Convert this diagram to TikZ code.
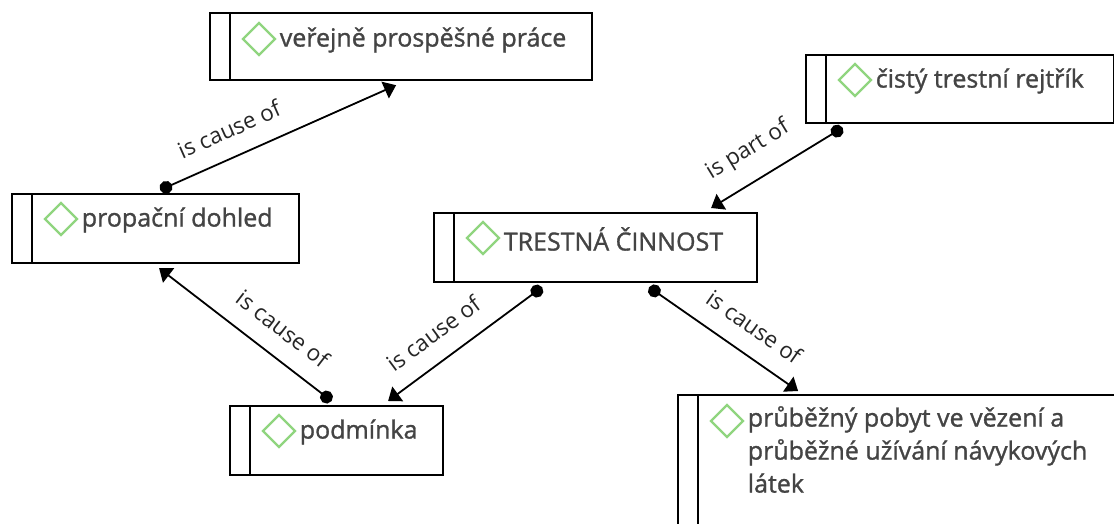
\documentclass[tikz,border=0pt]{standalone}
\usepackage{fontspec}
\setmainfont[FakeBold=1.2]{Open Sans}
\newfontfamily\labelfont{Open Sans}
\usetikzlibrary{positioning,arrows.meta,shapes.geometric}
\definecolor{inktext}{HTML}{444444}
\definecolor{markgreen}{HTML}{90D57F}
\begin{document}
\begin{tikzpicture}[x=1pt,y=-1pt]

    \tikzset{
      conceptbox/.style={
        draw,
        line width=2.2pt,
        anchor=north west,
        inner sep=0pt,
      },
      markdiamond/.style={
        draw=markgreen,
        line width=2.2pt,
        diamond,
        aspect=1,
        inner sep=0pt,
        minimum width=33pt,
        minimum height=33pt,
      },
      concepttext/.style={
        text=inktext,
        font=\fontsize{25}{33}\selectfont,
        align=left,
        inner sep=0pt,
      },
      causeline/.style={
        line width=1.8pt,
        {Circle[length=13pt]}-{Triangle[length=12pt,width=18pt]},
      },
      causelabel/.style={
        sloped,
        above=18pt,
        inner sep=0pt,
        text=black!85,
        font=\labelfont\fontsize{22.5}{24}\selectfont,
      },
    }
    \useasboundingbox (0,0) rectangle (1114,524);
    \clip (0,0) rectangle (1114,524);

    \node[conceptbox,minimum width=382pt,minimum height=67pt] (verejne) at (209,12) {};
    \node[conceptbox,minimum width=287pt,minimum height=69pt] (propacni) at (11,193) {};
    \node[conceptbox,minimum width=323pt,minimum height=69pt] (cinnost) at (433,212) {};
    \node[conceptbox,minimum width=308pt,minimum height=68pt] (rejstrik) at (805,54) {};
    \node[conceptbox,minimum width=213pt,minimum height=69pt] (podminka) at (229,405) {};
    \node[conceptbox,minimum width=500pt,minimum height=200pt] (pobyt) at (677,394) {};

    \foreach \n in {verejne,propacni,cinnost,rejstrik,podminka,pobyt}
      \draw[line width=2.2pt] ([xshift=21pt]\n.north west) -- ([xshift=21pt]\n.south west);

    \node[markdiamond] (dverejne) at ([shift={(50,27)}]verejne.north west) {};
    \node[markdiamond] (dpropacni) at ([shift={(50,26)}]propacni.north west) {};
    \node[markdiamond] (dcinnost) at ([shift={(50,26)}]cinnost.north west) {};
    \node[markdiamond] (drejstrik) at ([shift={(50,26)}]rejstrik.north west) {};
    \node[markdiamond] (dpodminka) at ([shift={(50,26)}]podminka.north west) {};
    \node[markdiamond] (dpobyt) at ([shift={(50,27)}]pobyt.north west) {};

    \node[concepttext,right=3pt of dverejne,yshift=-1pt] (tverejne) {veřejně prospěšné práce};
    \node[concepttext,right=3pt of dpropacni,yshift=-1pt] (tpropacni) {propační dohled};
    \node[concepttext,right=3pt of dcinnost,yshift=-1pt] (tcinnost) {TRESTNÁ ČINNOST};
    \node[concepttext,right=3pt of drejstrik,yshift=-1pt] (trejstrik) {čistý trestní rejtřík};
    \node[concepttext,right=3pt of dpodminka,yshift=-1pt] (tpodminka) {podmínka};
    \node[concepttext,anchor=north west] (tpobyt) at ([shift={(3,-15)}]dpobyt.east) {průběžný pobyt ve vězení a\\průběžné užívání návykových\\látek};

    \draw[causeline] ([xshift=4.5pt,yshift=3pt]propacni.north) -- node[causelabel,pos=.34] {is cause of} ([xshift=-5pt,yshift=-4pt]verejne.south);
    \draw[causeline] ([xshift=-117.5pt,yshift=-3.5pt]rejstrik.south) -- node[causelabel,pos=.6] {is part of} ([xshift=115.5pt,yshift=4pt]cinnost.north);
    \draw[causeline] ([xshift=-53.5pt,yshift=-4pt]cinnost.south) -- node[causelabel,pos=.6] {is cause of} ([xshift=51.5pt,yshift=4pt]podminka.north);
    \draw[causeline] ([xshift=53.5pt,yshift=-4pt]cinnost.south) -- node[causelabel,pos=.6] {is cause of} ([xshift=-130pt,yshift=3pt]pobyt.north);
    \draw[causeline] ([xshift=-5pt,yshift=4pt]podminka.north) -- node[causelabel,pos=.38] {is cause of} ([xshift=3.5pt,yshift=-4pt]propacni.south);

\end{tikzpicture}
\end{document}
